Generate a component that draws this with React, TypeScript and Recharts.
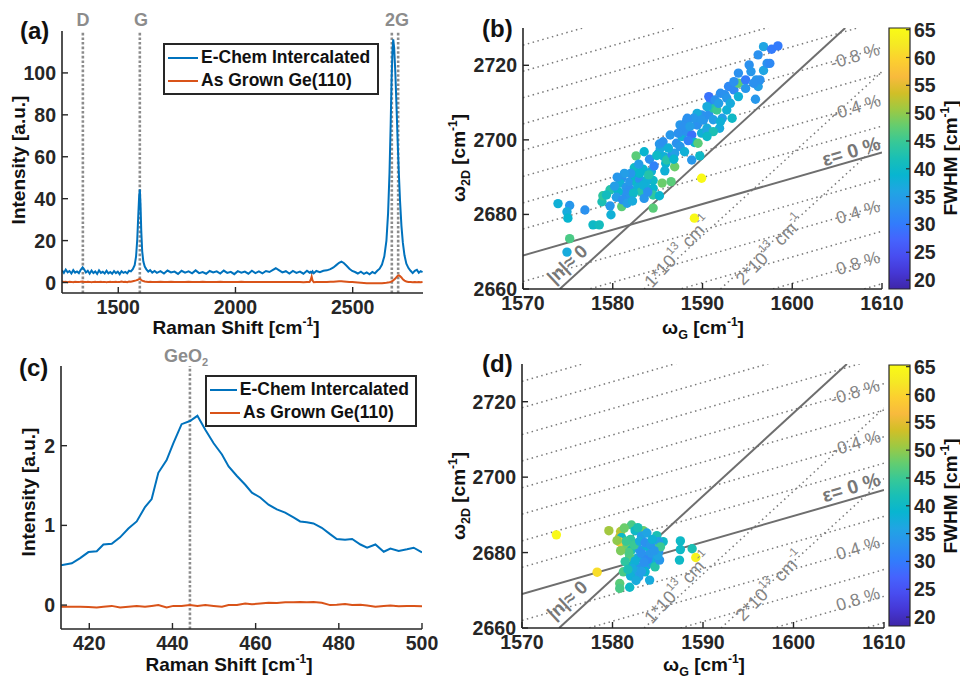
import React from "react";
import {
  ComposedChart,
  Line,
  Scatter,
  XAxis,
  YAxis,
  ReferenceLine,
  ReferenceArea,
  Legend,
} from "recharts";

const FONT = "'Liberation Sans', Arial, Helvetica, sans-serif";
const AX = "#262626";
const BLUE = "#0072BD";
const ORANGE = "#D95319";
const MARK = "#8c8c8c";
const GUIDE = "#7a7a7a";

// ---------- panel (a): full Raman spectra [shift, e-chem, as grown]
const spectrumA: [number, number, number][] = [
  [1260, 5.8, 0.5], [1268, 4.6, 0.3], [1276, 6.2, 0.4], [1284, 4.9, 0.2], [1292, 5.5, 0.4],
  [1300, 4.3, 0.3], [1308, 5.9, 0.1], [1316, 4.7, 0.4], [1324, 5.3, 0.3], [1332, 4.5, 0.2],
  [1340, 6.1, 0.4], [1348, 7.2, 0.5], [1355, 6.2, 0.3], [1362, 4.8, 0.2], [1370, 5.6, 0.4],
  [1378, 4.2, 0.3], [1386, 5.7, 0.1], [1394, 4.5, 0.3], [1402, 5.3, 0.4], [1410, 4.1, 0.2],
  [1418, 5.8, 0.3], [1426, 4.6, 0.4], [1434, 5.1, 0.2], [1442, 4.3, 0.3], [1450, 5.6, 0.1],
  [1458, 4.4, 0.3], [1466, 5.0, 0.4], [1474, 4.2, 0.2], [1482, 5.5, 0.3], [1490, 4.5, 0.4],
  [1498, 5.2, 0.2], [1506, 4.0, 0.3], [1514, 5.4, 0.5], [1522, 4.6, 0.3], [1530, 5.1, 0.4],
  [1538, 4.4, 0.2], [1546, 5.6, 0.5], [1554, 5.3, 0.4], [1562, 6.4, 0.6], [1570, 8.3, 0.8],
  [1576, 12.5, 1.0], [1581, 20.5, 1.2], [1585, 31.0, 1.4], [1589, 41.0, 1.6], [1592, 44.5, 1.7],
  [1595, 37.0, 1.5], [1598, 25.0, 1.2], [1602, 15.0, 0.9], [1607, 10.0, 0.7], [1613, 7.6, 0.5],
  [1620, 6.3, 0.4], [1628, 5.2, 0.3], [1636, 5.9, 0.4], [1645, 4.7, 0.3], [1655, 5.5, 0.2],
  [1665, 4.6, 0.3], [1680, 5.4, 0.4], [1695, 4.3, 0.2], [1710, 5.7, 0.3], [1725, 4.8, 0.4],
  [1740, 5.2, 0.2], [1755, 4.1, 0.3], [1770, 5.6, 0.3], [1785, 4.7, 0.2], [1800, 5.3, 0.4],
  [1815, 4.4, 0.3], [1830, 5.8, 0.2], [1845, 4.5, 0.3], [1860, 5.0, 0.4], [1875, 4.2, 0.2],
  [1890, 5.5, 0.3], [1905, 4.8, 0.3], [1920, 5.3, 0.2], [1935, 4.3, 0.4], [1950, 5.7, 0.3],
  [1965, 4.6, 0.2], [1980, 5.1, 0.3], [1995, 4.0, 0.3], [2010, 5.4, 0.2], [2025, 4.7, 0.4],
  [2040, 5.2, 0.3], [2055, 4.2, 0.2], [2070, 5.6, 0.3], [2085, 4.5, 0.3], [2100, 5.3, 0.2],
  [2115, 4.4, 0.3], [2130, 5.5, 0.2], [2145, 5.0, 0.3], [2160, 6.0, 0.3], [2172, 6.8, 0.2],
  [2185, 5.9, 0.3], [2200, 4.8, 0.2], [2215, 5.4, 0.3], [2230, 4.3, 0.2], [2245, 5.5, 0.2],
  [2260, 4.6, 0.3], [2275, 5.2, 0.2], [2290, 4.2, 0.1], [2305, 5.6, 0.2], [2316, 4.7, 0.2],
  [2321, 5.1, 1.3], [2325, 4.5, 2.8], [2329, 5.3, 0.9], [2334, 4.4, 0.1], [2345, 5.5, 0.2],
  [2360, 4.9, 0.3], [2375, 5.6, 0.2], [2390, 5.8, 0.3], [2405, 6.4, 0.4], [2418, 7.2, 0.4],
  [2430, 8.3, 0.5], [2442, 9.4, 0.6], [2452, 10.0, 0.6], [2462, 9.3, 0.5], [2474, 8.0, 0.4],
  [2486, 6.6, 0.3], [2498, 5.5, 0.2], [2510, 5.0, 0.1], [2522, 4.3, 0.0], [2535, 5.2, -0.1],
  [2548, 4.1, -0.2], [2560, 4.8, -0.3], [2572, 3.9, -0.3], [2584, 5.0, -0.4], [2595, 4.4, -0.3],
  [2605, 5.6, -0.4], [2615, 6.6, -0.3], [2625, 8.6, -0.3], [2635, 12.5, -0.2], [2644, 20.0, -0.1],
  [2651, 33.0, 0.0], [2657, 52.0, 0.1], [2662, 75.0, 0.3], [2666, 97.0, 0.5], [2670, 111.0, 0.8],
  [2673, 116.0, 1.0], [2677, 112.0, 1.4], [2682, 100.0, 1.9], [2687, 84.0, 2.6], [2692, 67.0, 3.2],
  [2697, 52.0, 3.4], [2702, 39.0, 3.1], [2708, 27.0, 2.4], [2714, 19.0, 1.5], [2721, 13.0, 0.9],
  [2729, 9.0, 0.5], [2738, 6.9, 0.3], [2747, 5.6, 0.2], [2756, 4.5, 0.1], [2765, 5.6, 0.2],
  [2774, 6.1, 0.1], [2782, 4.7, 0.2], [2790, 5.4, 0.1], [2798, 5.0, 0.2],
];
const shiftTicksA = [1500, 2000, 2500];
const intensityTicksA = [0, 20, 40, 60, 80, 100];
const peakMarksA = [1349, 1592, 2667, 2694];

// ---------- panel (c): GeO2 region [shift, e-chem, as grown]
const spectrumC: [number, number, number][] = [
  [413.2, 0.5, -0.02], [415.8, 0.525, -0.02], [417.8, 0.59, -0.02], [419.8, 0.665, -0.025],
  [421.8, 0.675, -0.03], [423.4, 0.76, -0.02], [425.4, 0.77, -0.01], [427.4, 0.85, -0.03],
  [429.4, 0.96, -0.02], [431.4, 1.05, -0.01], [433.4, 1.23, -0.02], [435.0, 1.33, -0.01],
  [436.6, 1.66, 0.0], [438.6, 1.82, -0.03], [440.2, 2.03, -0.01], [442.2, 2.27, -0.01],
  [444.2, 2.31, 0.0], [446.0, 2.375, -0.01], [447.9, 2.2, 0.0], [449.9, 2.03, -0.01],
  [451.9, 1.89, -0.02], [453.5, 1.74, 0.0], [455.5, 1.62, 0.0], [457.5, 1.51, 0.02],
  [459.1, 1.41, 0.01], [461.1, 1.35, 0.02], [463.1, 1.26, 0.03], [465.1, 1.2, 0.025],
  [467.1, 1.16, 0.035], [469.1, 1.1, 0.035], [470.7, 1.05, 0.04], [472.3, 1.04, 0.035],
  [473.9, 1.025, 0.04], [475.9, 0.97, 0.03], [477.9, 0.89, 0.0], [479.5, 0.83, 0.005],
  [481.5, 0.82, 0.015], [483.2, 0.83, 0.0], [485.2, 0.76, 0.005], [486.8, 0.72, -0.005],
  [488.8, 0.76, -0.02], [490.8, 0.67, -0.01], [492.4, 0.71, -0.005], [494.4, 0.68, -0.015],
  [496.4, 0.7, -0.01], [498.0, 0.72, -0.01], [500.0, 0.66, -0.015],
];
const shiftTicksC = [420, 440, 460, 480, 500];
const intensityTicksC = [0, 1, 2];
const peakMarksC = [444.2];

// ---------- panels (b) and (d): [omega G, omega 2D, FWHM]
const mapB: [number, number, number][] = [
  [1573.9, 2682.9, 38], [1575.2, 2682.4, 34], [1574.9, 2680.7, 37], [1575.0, 2679.0, 39],
  [1575.2, 2673.5, 46], [1574.9, 2669.9, 37], [1576.9, 2681.2, 33], [1577.8, 2677.2, 40],
  [1578.5, 2677.2, 41], [1578.8, 2683.4, 42], [1578.9, 2685.0, 44], [1579.7, 2686.6, 43],
  [1579.7, 2682.3, 34], [1579.8, 2679.9, 38], [1581.0, 2682.1, 47], [1581.0, 2689.7, 33],
  [1580.8, 2688.4, 38], [1581.5, 2687.3, 34], [1581.9, 2686.8, 33], [1581.4, 2685.7, 33],
  [1581.7, 2684.2, 34], [1580.6, 2686.1, 39], [1580.4, 2684.6, 35], [1581.1, 2683.9, 33],
  [1581.6, 2683.0, 35], [1581.9, 2688.8, 34], [1582.4, 2692.5, 40], [1582.6, 2695.7, 47],
  [1582.5, 2690.1, 39], [1582.7, 2688.4, 40], [1583.0, 2689.4, 33], [1582.8, 2687.3, 38],
  [1583.2, 2686.1, 43], [1583.5, 2684.3, 34], [1583.7, 2687.4, 37], [1583.4, 2692.1, 39],
  [1583.5, 2696.8, 39], [1584.1, 2694.8, 33], [1584.3, 2691.5, 38], [1584.5, 2689.1, 40],
  [1584.5, 2687.0, 39], [1584.5, 2685.2, 44], [1585.2, 2685.0, 39], [1585.5, 2688.4, 48],
  [1584.5, 2681.7, 47], [1585.1, 2696.4, 33], [1585.3, 2697.7, 37], [1585.2, 2698.9, 34],
  [1585.7, 2695.5, 38], [1585.9, 2693.7, 39], [1585.8, 2691.7, 38], [1586.0, 2694.6, 43],
  [1586.5, 2688.8, 47], [1586.9, 2692.8, 48], [1586.6, 2696.0, 33], [1586.4, 2701.3, 34],
  [1587.1, 2699.1, 33], [1586.9, 2696.4, 35], [1587.7, 2700.9, 38], [1587.5, 2698.2, 34],
  [1588.0, 2696.8, 38], [1588.2, 2702.2, 33], [1588.8, 2701.3, 29], [1588.8, 2694.6, 34],
  [1589.1, 2699.3, 39], [1589.5, 2699.1, 47], [1589.9, 2689.7, 65], [1589.1, 2679.0, 65],
  [1589.7, 2695.7, 40], [1589.4, 2704.0, 33], [1590.1, 2705.3, 34], [1590.7, 2706.7, 33],
  [1590.5, 2703.1, 37], [1589.9, 2701.8, 38], [1589.4, 2706.2, 37], [1588.2, 2704.9, 33],
  [1587.5, 2704.0, 34], [1583.8, 2689.2, 38], [1584.0, 2690.6, 43], [1583.0, 2691.0, 39],
  [1583.4, 2687.9, 38], [1582.3, 2685.7, 40], [1579.3, 2685.2, 41], [1591.2, 2708.5, 43],
  [1591.6, 2708.0, 45], [1590.9, 2710.7, 31], [1590.7, 2711.6, 29], [1591.4, 2710.7, 33],
  [1592.0, 2712.5, 33], [1592.5, 2712.1, 33], [1592.9, 2714.3, 32], [1592.7, 2708.0, 38],
  [1593.3, 2705.8, 40], [1591.9, 2703.1, 37], [1592.2, 2705.8, 35], [1593.5, 2713.4, 32],
  [1594.0, 2715.2, 47], [1594.0, 2717.9, 33], [1594.0, 2711.6, 38], [1594.8, 2716.1, 30],
  [1595.2, 2720.1, 33], [1595.4, 2718.3, 34], [1595.9, 2710.9, 34], [1596.0, 2716.1, 34],
  [1596.2, 2714.3, 35], [1596.4, 2716.1, 33], [1596.2, 2722.8, 33], [1596.8, 2718.6, 36],
  [1596.8, 2725.0, 36], [1597.2, 2720.5, 33], [1597.5, 2720.5, 32], [1597.7, 2724.3, 30],
  [1598.4, 2725.2, 30], [1595.7, 2715.2, 33], [1594.8, 2713.8, 34], [1593.5, 2715.6, 33],
  [1592.7, 2711.2, 34], [1593.1, 2709.8, 37], [1591.8, 2709.8, 35], [1590.5, 2708.9, 37],
  [1589.9, 2706.7, 33], [1589.4, 2707.1, 37], [1589.0, 2705.8, 34], [1588.3, 2705.8, 33],
  [1587.9, 2703.6, 33], [1588.6, 2703.6, 35], [1589.9, 2705.4, 34], [1591.2, 2705.4, 35],
  [1592.0, 2704.9, 38], [1590.5, 2702.2, 36], [1591.2, 2702.2, 42], [1590.5, 2700.9, 40],
  [1582.0, 2691.0, 34], [1582.9, 2693.5, 35], [1584.6, 2693.0, 31], [1585.6, 2699.5, 33],
  [1586.2, 2697.8, 38], [1587.3, 2701.8, 33], [1588.4, 2699.8, 31], [1586.8, 2694.8, 39],
  [1584.9, 2695.8, 40], [1583.9, 2686.0, 33], [1582.2, 2683.6, 37], [1580.2, 2687.6, 35],
  [1581.3, 2691.0, 35], [1580.5, 2690.0, 34],
];

const mapD: [number, number, number][] = [
  [1573.8, 2684.7, 65], [1578.3, 2674.8, 61], [1579.6, 2685.8, 51], [1580.9, 2685.6, 52],
  [1580.8, 2684.2, 53], [1581.0, 2684.0, 40], [1581.0, 2682.5, 57], [1580.8, 2682.8, 58],
  [1582.1, 2687.3, 46], [1582.5, 2685.8, 40], [1583.4, 2685.8, 48], [1583.2, 2684.4, 35],
  [1584.9, 2684.5, 42], [1585.6, 2682.9, 40], [1585.1, 2682.9, 35], [1581.6, 2681.6, 48],
  [1582.1, 2680.7, 42], [1582.7, 2682.5, 34], [1583.0, 2680.7, 34], [1583.8, 2681.6, 38],
  [1584.5, 2681.1, 46], [1584.0, 2679.4, 35], [1584.7, 2678.9, 37], [1583.4, 2678.5, 34],
  [1582.7, 2678.5, 37], [1581.9, 2678.9, 47], [1581.4, 2677.6, 44], [1582.3, 2676.7, 40],
  [1583.0, 2676.2, 34], [1583.8, 2676.7, 34], [1584.5, 2677.1, 38], [1584.7, 2676.2, 43],
  [1583.6, 2674.9, 39], [1582.7, 2674.9, 36], [1582.9, 2673.6, 35], [1581.2, 2674.9, 46],
  [1580.8, 2671.8, 47], [1580.8, 2670.5, 46], [1581.9, 2670.8, 40], [1584.1, 2672.7, 37],
  [1585.2, 2678.0, 34], [1585.1, 2680.2, 33], [1587.5, 2683.1, 40], [1587.5, 2680.8, 40],
  [1587.4, 2678.0, 40], [1588.8, 2681.0, 42], [1589.2, 2678.7, 64], [1582.0, 2683.5, 44],
  [1582.4, 2682.0, 45], [1583.0, 2683.0, 37], [1583.6, 2682.6, 33], [1584.2, 2682.0, 34],
  [1583.2, 2679.8, 33], [1583.9, 2678.2, 32], [1584.3, 2679.8, 34], [1582.5, 2677.8, 38],
  [1582.2, 2675.8, 37], [1583.2, 2675.0, 35], [1581.8, 2680.0, 46], [1581.5, 2683.0, 45],
  [1582.8, 2686.6, 42], [1583.8, 2685.2, 36], [1584.4, 2683.5, 38], [1585.3, 2681.5, 45],
  [1585.0, 2679.2, 36], [1582.0, 2673.8, 38], [1582.6, 2672.6, 37], [1583.5, 2677.5, 33],
  [1584.6, 2680.5, 34], [1581.7, 2675.5, 42], [1580.9, 2680.5, 49], [1581.3, 2686.5, 48],
  [1580.5, 2683.2, 50],
];

const gTicks = [1570, 1580, 1590, 1600, 1610];
const dTicks = [2660, 2680, 2700, 2720];
const fwhmTicks = [20, 25, 30, 35, 40, 45, 50, 55, 60, 65];

// guide lines: strain line (|n| = 0) and doping line (eps = 0)
const strainLine: [number, number][] = [[1574.1, 2660], [1605.9, 2730]];
const dopingLine: [number, number][] = [[1570, 2669.0], [1610, 2696.6]];
// iso-strain lines, omega2D at wG = 1570 and wG = 1610
const isoStrain: [number, number][] = [
  [2725.4, 2753.0], [2718.4, 2746.0], [2711.3, 2738.9], [2704.3, 2731.9],
  [2697.2, 2724.8], [2690.2, 2717.8], [2683.1, 2710.7], [2676.1, 2703.7],
  [2662.0, 2689.6], [2654.9, 2682.5], [2647.9, 2675.5], [2640.8, 2668.4], [2633.8, 2661.4],
];
// iso-doping lines (1e13, 2e13)
const isoDoping: [number, number][][] = [
  [[1583.5, 2660], [1610, 2718.3]],
  [[1592.0, 2660], [1610, 2699.6]],
];

// parula (MATLAB) sampled every 4th entry
const PARULA = [
  "#3e26a8", "#4537d5", "#484df0", "#4563fd", "#327cfc", "#2b91ef", "#20a5e3", "#08b5d0", "#19bfb6",
  "#37c897", "#64cd6f", "#9dc943", "#d1bf27", "#f8ba3d", "#fccf30", "#f5e924", "#f9fb15",
];
const CMIN = 18.4;
const CMAX = 65.3;

function parula(v: number) {
  const t = Math.min(1, Math.max(0, (v - CMIN) / (CMAX - CMIN))) * (PARULA.length - 1);
  const i = Math.min(PARULA.length - 2, Math.floor(t));
  const f = t - i;
  const a = PARULA[i], b = PARULA[i + 1];
  const ch = (h: string, k: number) => parseInt(h.slice(1 + 2 * k, 3 + 2 * k), 16);
  const c = [0, 1, 2].map((k) => Math.round(ch(a, k) + (ch(b, k) - ch(a, k)) * f));
  return `rgb(${c[0]},${c[1]},${c[2]})`;
}

const TICK_SIZE = 19.5;
const axisLine = { stroke: AX, strokeWidth: 1.6 };
const tickLine = { stroke: AX, strokeWidth: 1.4 };

const makeTick = (bottom: boolean) => (props: any) => (
  <text
    x={props.x}
    y={props.y}
    dy={bottom ? TICK_SIZE * 0.72 : TICK_SIZE * 0.36}
    textAnchor={props.textAnchor}
    fill={AX}
    fontSize={TICK_SIZE}
    fontWeight={700}
    fontFamily={FONT}
  >
    {props.payload.value}
  </text>
);
const bottomTick = makeTick(true);
const sideTick = makeTick(false);

const seriesOrder = ["e", "g"];
const legendBox = (props: any) => {
  const items = [...(props.payload || [])].sort(
    (a: any, b: any) => seriesOrder.indexOf(a.dataKey) - seriesOrder.indexOf(b.dataKey)
  );
  return (
    <div
      style={{
        border: `2px solid ${AX}`,
        background: "#fff",
        padding: "1px 6px 1px 3px",
        fontFamily: FONT,
        fontWeight: 700,
        fontSize: 17.5,
        color: "#111",
        lineHeight: "23px",
        whiteSpace: "nowrap",
      }}
    >
      {items.map((e: any) => (
        <div key={e.value} style={{ display: "flex", alignItems: "center" }}>
          <span style={{ display: "inline-block", width: 30, height: 2, background: e.color, marginRight: 3 }} />
          {e.value}
        </div>
      ))}
    </div>
  );
};

function SpectrumPanel(p: {
  left: number; top: number; height: number; margin: any;
  rows: [number, number, number][]; xDomain: [number, number]; xTicks: number[];
  yDomain: [number, number]; yTicks: number[]; marks: number[]; legend: { left: number; top: number; width: number };
}) {
  const data = p.rows.map(([x, e, g]) => ({ x, e, g }));
  return (
    <div style={{ position: "absolute", left: p.left, top: p.top }}>
      <ComposedChart width={440} height={p.height} margin={p.margin} data={data}>
        <XAxis type="number" dataKey="x" domain={p.xDomain} ticks={p.xTicks} allowDataOverflow interval={0}
          height={30} tickSize={-6} tickMargin={13} axisLine={axisLine} tickLine={tickLine} tick={bottomTick} />
        <XAxis xAxisId="top" orientation="top" type="number" domain={p.xDomain} ticks={p.xTicks} allowDataOverflow
          interval={0} height={0} tickSize={-6} axisLine={axisLine} tickLine={tickLine} tick={false} />
        <YAxis type="number" domain={p.yDomain} ticks={p.yTicks} allowDataOverflow interval={0} width={50}
          tickSize={-6} tickMargin={12} axisLine={axisLine} tickLine={tickLine} tick={sideTick} />
        <YAxis yAxisId="right" orientation="right" type="number" domain={p.yDomain} ticks={p.yTicks} allowDataOverflow
          interval={0} width={0} tickSize={-6} axisLine={axisLine} tickLine={tickLine} tick={false} />
        {p.marks.map((m) => (
          <ReferenceLine key={m} x={m} stroke={MARK} strokeWidth={2.6} strokeDasharray="2.6 2" />
        ))}
        <Line type="linear" dataKey="e" name="E-Chem Intercalated" stroke={BLUE} strokeWidth={2} dot={false} isAnimationActive={false} />
        <Line type="linear" dataKey="g" name="As Grown Ge(110)" stroke={ORANGE} strokeWidth={2} dot={false} isAnimationActive={false} />
        <Legend layout="vertical" align="center" verticalAlign="middle" content={legendBox} itemSorter="dataKey"
          wrapperStyle={{ left: p.legend.left, top: p.legend.top, width: p.legend.width }} />
      </ComposedChart>
    </div>
  );
}

const dotShape = (props: any) => (
  <circle cx={props.cx} cy={props.cy} r={4.7} fill={parula(props.payload.w)} />
);

function MapPanel(p: { top: number; height: number; margin: any; pts: [number, number, number][] }) {
  const data = p.pts.map(([g, d, w]) => ({ g, d, w }));
  const gDom: [number, number] = [1570, 1610];
  const dDom: [number, number] = [2660, 2730];
  return (
    <div style={{ position: "absolute", left: 460, top: p.top }}>
      <ComposedChart width={460} height={p.height} margin={p.margin}>
        <XAxis type="number" dataKey="g" domain={gDom} ticks={gTicks} allowDataOverflow interval={0}
          height={30} tickSize={-6} tickMargin={13} axisLine={axisLine} tickLine={tickLine} tick={bottomTick} />
        <XAxis xAxisId="top" orientation="top" type="number" domain={gDom} ticks={gTicks} allowDataOverflow
          interval={0} height={0} tickSize={-6} axisLine={axisLine} tickLine={tickLine} tick={false} />
        <YAxis type="number" dataKey="d" domain={dDom} ticks={dTicks} allowDataOverflow interval={0} width={50}
          tickSize={-6} tickMargin={12} axisLine={axisLine} tickLine={tickLine} tick={sideTick} />
        <YAxis yAxisId="right" orientation="right" type="number" domain={dDom} ticks={dTicks} allowDataOverflow
          interval={0} width={0} tickSize={-6} axisLine={axisLine} tickLine={tickLine} tick={false} />
        {isoStrain.map(([l, r], i) => (
          <ReferenceLine key={"s" + i} segment={[{ x: 1570, y: l }, { x: 1610, y: r }]} ifOverflow="hidden"
            stroke={GUIDE} strokeWidth={1.5} strokeDasharray="1.5 3.5" />
        ))}
        {isoDoping.map((seg, i) => (
          <ReferenceLine key={"n" + i} segment={[{ x: seg[0][0], y: seg[0][1] }, { x: seg[1][0], y: seg[1][1] }]}
            ifOverflow="hidden" stroke={GUIDE} strokeWidth={1.5} strokeDasharray="1.5 3.5" />
        ))}
        {[strainLine, dopingLine].map((seg, i) => (
          <ReferenceLine key={"m" + i} segment={[{ x: seg[0][0], y: seg[0][1] }, { x: seg[1][0], y: seg[1][1] }]}
            ifOverflow="hidden" stroke="#6e6e6e" strokeWidth={2} />
        ))}
        <Scatter data={data} dataKey="d" shape={dotShape} isAnimationActive={false} />
      </ComposedChart>
    </div>
  );
}

function ColorBar(p: { top: number; height: number; margin: any; id: string }) {
  return (
    <div style={{ position: "absolute", left: 885, top: p.top }}>
      <ComposedChart width={75} height={p.height} margin={p.margin} data={[{ x: 0 }, { x: 1 }]}>
        <defs>
          <linearGradient id={p.id} x1="0" y1="1" x2="0" y2="0">
            {PARULA.map((c, i) => (
              <stop key={i} offset={i / (PARULA.length - 1)} stopColor={c} />
            ))}
          </linearGradient>
        </defs>
        <XAxis type="number" dataKey="x" domain={[0, 1]} hide />
        <YAxis orientation="right" type="number" domain={[CMIN, CMAX]} ticks={fwhmTicks} allowDataOverflow interval={0}
          width={40} tickSize={-4} tickMargin={8} axisLine={false} tickLine={{ stroke: AX, strokeWidth: 1.2 }} tick={sideTick} />
        <ReferenceArea x1={0} x2={1} y1={CMIN} y2={CMAX} fill={`url(#${p.id})`} fillOpacity={1}
          stroke={AX} strokeWidth={1.2} ifOverflow="visible" />
      </ComposedChart>
    </div>
  );
}

function MapNotes({ dy }: { dy: number }) {
  const g = "#858585";
  const t = (x: number, y: number, a: number) => `rotate(${a} ${x} ${y + dy})`;
  return (
    <g fill={g}>
      <text x={855} y={56 + dy} transform={t(855, 56, -17)} textAnchor="middle" dominantBaseline="central" fontSize={17.5}>-0.8 %</text>
      <text x={856} y={107 + dy} transform={t(856, 107, -17)} textAnchor="middle" dominantBaseline="central" fontSize={17.5}>-0.4 %</text>
      <text x={851} y={151 + dy} transform={t(851, 151, -17)} textAnchor="middle" dominantBaseline="central" fontSize={19.5} fontWeight="bold" fill="#777">ε= 0 %</text>
      <text x={858} y={212 + dy} transform={t(858, 212, -17)} textAnchor="middle" dominantBaseline="central" fontSize={17.5}>0.4 %</text>
      <text x={858} y={263 + dy} transform={t(858, 263, -17)} textAnchor="middle" dominantBaseline="central" fontSize={17.5}>0.8 %</text>
      <text x={567} y={264 + dy} transform={t(567, 264, -43)} textAnchor="middle" dominantBaseline="central" fontSize={18.5} fontWeight="bold" fill="#777">|n|≈ 0</text>
      <text x={678} y={252 + dy} transform={t(678, 252, -47)} textAnchor="middle" dominantBaseline="central" fontSize={18}>
        1*10<tspan fontSize={11.5} dy={-7}>13</tspan><tspan dy={7}> cm</tspan><tspan fontSize={11.5} dy={-7}>-1</tspan>
      </text>
      <text x={770} y={250 + dy} transform={t(770, 250, -46)} textAnchor="middle" dominantBaseline="central" fontSize={18}>
        2*10<tspan fontSize={11.5} dy={-7}>13</tspan><tspan dy={7}> cm</tspan><tspan fontSize={11.5} dy={-7}>-1</tspan>
      </text>
    </g>
  );
}

function Overlay() {
  const cm = (
    <>
      <tspan> [cm</tspan>
      <tspan fontSize={12} dy={-8}>-1</tspan>
      <tspan dy={8}>]</tspan>
    </>
  );
  const omega = (sub: string) => (
    <>
      ω<tspan fontSize={12.5} dy={5}>{sub}</tspan>
      <tspan dy={-5}> [cm</tspan>
      <tspan fontSize={12} dy={-8}>-1</tspan>
      <tspan dy={8}>]</tspan>
    </>
  );
  return (
    <svg width={960} height={679} style={{ position: "absolute", left: 0, top: 0, pointerEvents: "none", fontFamily: FONT }}>
      <g fontWeight="bold" fontSize={24} fill="#111">
        <text x={20} y={39}>(a)</text>
        <text x={482} y={37}>(b)</text>
        <text x={19} y={376}>(c)</text>
        <text x={482} y={372}>(d)</text>
      </g>
      <g fontWeight="bold" fontSize={18} fill={MARK} textAnchor="middle">
        <text x={83} y={26}>D</text>
        <text x={141} y={26}>G</text>
        <text x={397} y={26}>2G</text>
        <text x={186} y={362}>GeO<tspan fontSize={11} dy={4}>2</tspan></text>
      </g>
      <g fontWeight="bold" fontSize={19} fill="#111" textAnchor="middle">
        <text x={236} y={334}>Raman Shift{cm}</text>
        <text x={229} y={671}>Raman Shift{cm}</text>
        <text x={703} y={334}>{omega("G")}</text>
        <text x={704} y={671}>{omega("G")}</text>
        <text transform="translate(25,160) rotate(-90)">Intensity [a.u.]</text>
        <text transform="translate(35,492) rotate(-90)">Intensity [a.u.]</text>
        <text transform="translate(465,158) rotate(-90)">{omega("2D")}</text>
        <text transform="translate(465,496) rotate(-90)">{omega("2D")}</text>
        <text transform="translate(957,158) rotate(-90)">FWHM{cm}</text>
        <text transform="translate(957,496) rotate(-90)">FWHM{cm}</text>
      </g>
      <MapNotes dy={0} />
      <MapNotes dy={336} />
    </svg>
  );
}

export default function App() {
  return (
    <div style={{ position: "absolute", left: 0, top: 0, width: 960, height: 679, background: "#fff", fontFamily: FONT }}>
      <SpectrumPanel left={0} top={0} height={330} margin={{ top: 31, right: 17, bottom: 7, left: 12 }}
        rows={spectrumA} xDomain={[1260, 2800]} xTicks={shiftTicksA} yDomain={[-5, 120]} yTicks={intensityTicksA}
        marks={peakMarksA} legend={{ left: 163, top: 43, width: 216 }} />
      <SpectrumPanel left={0} top={340} height={339} margin={{ top: 26, right: 18, bottom: 20, left: 11 }}
        rows={spectrumC} xDomain={[413.2, 500]} xTicks={shiftTicksC} yDomain={[-0.3, 3]} yTicks={intensityTicksC}
        marks={peakMarksC} legend={{ left: 205, top: 35, width: 212 }} />
      <MapPanel top={0} height={330} margin={{ top: 28, right: 38, bottom: 11, left: 13 }} pts={mapB} />
      <MapPanel top={340} height={339} margin={{ top: 24, right: 36, bottom: 21, left: 12 }} pts={mapD} />
      <ColorBar top={0} height={330} margin={{ top: 28, right: 10, bottom: 41, left: 4 }} id="parulaB" />
      <ColorBar top={340} height={339} margin={{ top: 25, right: 10, bottom: 53, left: 4 }} id="parulaD" />
      <Overlay />
    </div>
  );
}
